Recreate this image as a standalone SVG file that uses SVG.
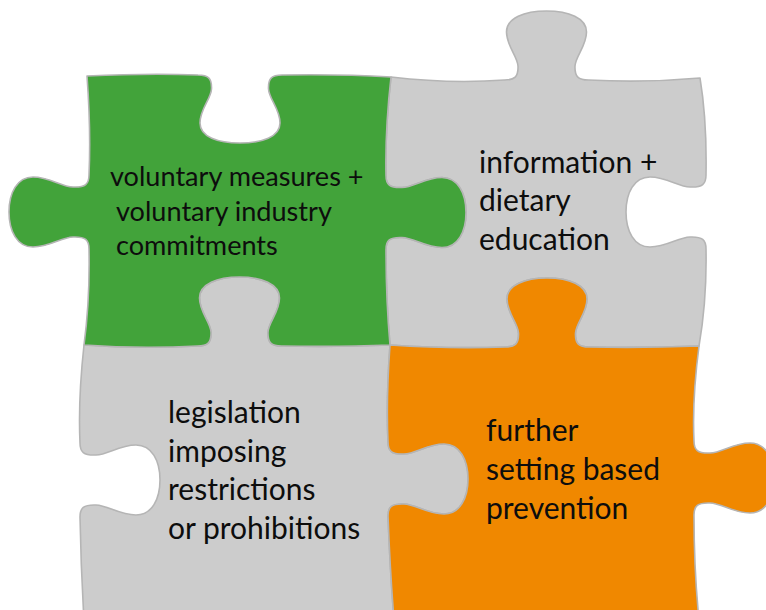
<svg xmlns="http://www.w3.org/2000/svg" width="766" height="610" viewBox="0 0 766 610">
<style>
.piece{stroke:#b5b5b5;stroke-width:1.6;stroke-linejoin:round}
.gray{fill:#cccccc}
.green{fill:#42a33a}
.orange{fill:#f08800}
.lbl{font-family:Lato,"Open Sans","Liberation Sans",sans-serif;fill:#0d0d0d}
.big{font-size:30px}
.small{font-size:27.1px}
</style>
<rect width="766" height="610" fill="#ffffff"/>
<g id="piece-information">
<path class="piece gray" d="M 391 77 Q 450 84 504.5 80 C 514.5 80 518.5 77 518 66 C 517.5 56 506.5 46 506.5 32 C 506.5 18 524.5 11 546.5 11 C 568.5 11 586.5 18 586.5 32 C 586.5 46 575.5 56 575 66 C 574.5 77 578.5 80 588.5 80 Q 645 83 700 78 Q 707 120 706 175 C 706 184 702.5 187.5 690 187 C 678 186.6 667 177 650 177 C 634 177 626 193 626 212 C 626 231 634 247 650 247 C 667 247 678 237.4 690 237 C 702.5 236.5 706 240 706 249 Q 707 300 699 346 Q 645 348 589 347 C 579 347 575 344 575.5 333 C 576 323 587 313 587 299 C 587 285 569 278 547 278 C 525 278 507 285 507 299 C 507 313 518 323 518.5 333 C 519 344 515 347 505 347 Q 450 349 390 345 Q 386 300 386 249.5 C 386 240.5 389.5 237 402 237.5 C 414 237.9 425 247.5 442 247.5 C 458 247.5 466 231.5 466 212.5 C 466 193.5 458 177.5 442 177.5 C 425 177.5 414 187.1 402 187.5 C 389.5 188 386 184.5 386 175.5 Q 385 130 391 77 Z"/>
<text class="lbl big" x="479" y="173">information +</text>
<text class="lbl big" x="479" y="211">dietary</text>
<text class="lbl big" x="479" y="250">education</text>
</g>
<g id="piece-legislation">
<path class="piece gray" d="M 84 345 Q 140 349 197.5 346 C 207.5 346 211.5 343 211 332 C 210.5 322 199.5 312 199.5 298 C 199.5 284 217.5 277 239.5 277 C 261.5 277 279.5 284 279.5 298 C 279.5 312 268.5 322 268 332 C 267.5 343 271.5 346 281.5 346 Q 340 347 390 345 Q 386 400 388 442 C 388 451 391.5 454.5 404 454 C 416 453.6 427 444 444 444 C 460 444 468 460 468 479 C 468 498 460 514 444 514 C 427 514 416 504.4 404 504 C 391.5 503.5 388 507 388 516 Q 390 570 394 620 L 84 620 Q 81 570 80 517 C 80 508 83.5 504.5 96 505 C 108 505.4 119 515 136 515 C 152 515 160 499 160 480 C 160 461 152 445 136 445 C 119 445 108 454.6 96 455 C 83.5 455.5 80 452 80 443 Q 78 400 84 345 Z"/>
<text class="lbl big" x="168" y="423">legislation</text>
<text class="lbl big" x="168" y="461.5">imposing</text>
<text class="lbl big" x="168" y="500">restrictions</text>
<text class="lbl big" x="168" y="538.5">or prohibitions</text>
</g>
<g id="piece-voluntary">
<path class="piece green" d="M 87 76 Q 150 73 198 75 C 208 75 212 78 211.5 89 C 211 99 200 109 200 123 C 200 137 218 143 240 143 C 262 143 280 137 280 123 C 280 109 269 99 268.5 89 C 268 78 272 75 282 75 Q 340 74 391 77 Q 385 130 386 175.5 C 386 184.5 389.5 188 402 187.5 C 414 187.1 425 177.5 442 177.5 C 458 177.5 466 193.5 466 212.5 C 466 231.5 458 247.5 442 247.5 C 425 247.5 414 237.9 402 237.5 C 389.5 237 386 240.5 386 249.5 Q 386 300 390 345 Q 340 347 281.5 346 C 271.5 346 267.5 343 268 332 C 268.5 322 279.5 312 279.5 298 C 279.5 284 261.5 277 239.5 277 C 217.5 277 199.5 284 199.5 298 C 199.5 312 210.5 322 211 332 C 211.5 343 207.5 346 197.5 346 Q 140 349 84 345 Q 90 300 89 249 C 89 240 85.5 236.5 73 237 C 61 237.4 50 247 33 247 C 17 247 9 231 9 212 C 9 193 17 177 33 177 C 50 177 61 186.6 73 187 C 85.5 187.5 89 184 89 175 Q 91 130 87 76 Z"/>
<text class="lbl small" x="110" y="186">voluntary measures +</text>
<text class="lbl small" x="116" y="220.5">voluntary industry</text>
<text class="lbl small" x="116" y="255">commitments</text>
</g>
<g id="piece-setting">
<path class="piece orange" d="M 390 345 Q 450 349 505 347 C 515 347 519 344 518.5 333 C 518 323 507 313 507 299 C 507 285 525 278 547 278 C 569 278 587 285 587 299 C 587 313 576 323 575.5 333 C 575 344 579 347 589 347 Q 645 348 699 346 Q 692 400 694 441 C 694 450 697.5 453.5 710 453 C 722 452.6 733 443 750 443 C 766 443 774 459 774 478 C 774 497 766 513 750 513 C 733 513 722 503.4 710 503 C 697.5 502.5 694 506 694 515 Q 694 570 699 620 L 394 620 Q 390 570 388 516 C 388 507 391.5 503.5 404 504 C 416 504.4 427 514 444 514 C 460 514 468 498 468 479 C 468 460 460 444 444 444 C 427 444 416 453.6 404 454 C 391.5 454.5 388 451 388 442 Q 386 400 390 345 Z"/>
<text class="lbl big" x="486" y="441">further</text>
<text class="lbl big" x="486" y="480">setting based</text>
<text class="lbl big" x="486" y="519">prevention</text>
</g>
<g id="connectors"></g>
</svg>
